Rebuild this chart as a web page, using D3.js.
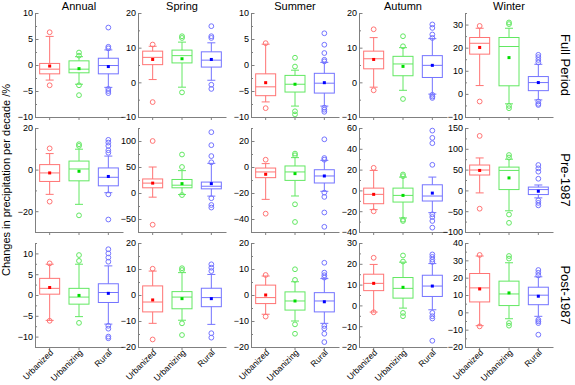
<!DOCTYPE html>
<html>
<head>
<meta charset="utf-8">
<script src="https://cdn.jsdelivr.net/npm/d3@7"></script>
<style>
  body { margin: 0; background: #fff; }
  svg { font-family: Arial, "Liberation Sans", sans-serif; }
  .axis path, .axis line { stroke: #808080; }
  .axis text { fill: #000; font-size: 9px; }
</style>
</head>
<body>
<svg></svg>
<script>
let periods = ['Full Period', 'Pre-1987', 'Post-1987']
let seasons = ['Annual', 'Spring', 'Summer', 'Autumn', 'Winter']
let groups = ['Urbanized', 'Urbanizing', 'Rural']

// each box: [whisker low, Q1, median, Q3, whisker high, mean]
let fullBoxes = [
    [[-2.9, -1.7, -0.8, 0.3, 5.5, -0.2], [-3.7, -1.5, -0.8, 0.8, 1.6, -0.7], [-4.3, -1.7, -0.1, 1.3, 2.9, -0.3]],
    [[0.8, 5.1, 7.2, 9.0, 10.4, 6.6], [-1.4, 5.6, 7.7, 9.3, 11.6, 6.8], [0.6, 4.4, 6.4, 8.8, 11.4, 6.6]],
    [[-7.1, -5.9, -4.2, -1.7, 4.0, -3.4], [-7.9, -5.2, -3.7, -2.0, -1.0, -3.7], [-7.9, -5.4, -3.5, -1.6, 0.5, -3.4]],
    [[-1.4, 3.9, 6.8, 9.0, 12.9, 6.6], [-2.3, 1.9, 5.3, 7.5, 10.0, 4.6], [-3.4, 1.4, 4.9, 7.7, 12.6, 4.9]],
    [[3.6, 17.2, 21.9, 24.4, 28.4, 20.1], [-4.3, 3.5, 20.5, 24.4, 28.4, 15.7], [-2.6, 1.4, 4.9, 7.5, 12.8, 4.9]]
]
let fullOutliers = [
    [[6.3, -3.9], [2.4, 1.8, -3.9, -5.8], [7.2, 3.5, 3.2, -4.6, -5.0, -5.4]],
    [[10.9, -5.7], [13.3, 12.8, -2.9], [16.2, 13.3, 12.8, -0.7, -1.9]],
    [[4.2, -8.3], [1.4, -0.3, -8.9, -9.5], [6.1, 3.9, 2.3, 1.0, 0.7, -8.2, -8.6, -9.0]],
    [[15.3, -2.3], [13.3, 10.4, -4.8], [16.7, 15.7, 13.8, 12.8, -3.6, -4.1, -4.5]],
    [[29.4, -3.3], [30.9, 30.2, -5.2, -6.2], [16.9, 15.9, 14.7, 13.6, -3.3, -4.3, -4.8]]
]
let preBoxes = [
    [[-11.9, -5.7, -1.6, 2.4, 7.7, -1.6], [-16.7, -5.4, 0.3, 4.1, 9.8, -0.8], [-11.1, -7.8, -3.7, 0.8, 6.5, -3.3]],
    [[-8, 10, 19, 27, 50, 19], [-3, 10, 15, 26, 43, 18], [-6, 8, 13, 21, 57, 18]],
    [[-24.9, -8.2, -3.8, -0.8, 2.6, -5.6], [-22.3, -10.3, -3.8, 0.8, 7.2, -5.1], [-18.7, -12.3, -6.9, -2.1, 5.1, -6.9]],
    [[-18.5, -12.8, -3.8, 2.2, 19.2, -3.8], [-26.5, -11.2, -4.8, 2.2, 12.8, -4.8], [-21.4, -10.2, -5.4, 5.4, 12.8, -2.6]],
    [[-6, 37, 49, 61, 78, 48], [-49, 2, 48, 56, 75, 30], [-18, -10, 2, 8, 13, -2]]
]
let preOutliers = [
    [[10.2, -15.4], [12.2, 11.4, -22], [14.3, 13.0, 11.4, 9.3, 8.1, -11.9, -24]],
    [[100, -61], [74, 50, -4], [117, 92, 71, 59, -10, -23, -28]],
    [[5.6, -35.9], [10.3, 9.0, -28.7, -42.3], [21.3, 6.9, 5.6, -19.7, -23, -35, -46]],
    [[21.7, -20.1], [15.3, 13.7, -28.1, -29.4], [57.5, 50.5, 45.4, 24.6, -23, -25.6, -29.4, -35.8]],
    [[131, -44], [85, 79, -58, -78], [61, 53, 45, 28, -24, -30, -36]]
]
let postBoxes = [
    [[-6.1, 0.2, 1.6, 4.0, 7.4, 1.8], [-5.2, -2.2, -0.5, 1.6, 7.4, -0.1], [-7.0, -1.8, 0.6, 2.7, 7.0, 0.4]],
    [[-10.9, -6.5, -2.7, 3.5, 9.2, -1.9], [-9.7, -5.3, -0.8, 1.3, 8.6, -1.4], [-11.3, -4.5, -1.0, 2.6, 7.9, -1.4]],
    [[-7.4, -3.3, -1.0, 3.8, 7.3, 0.0], [-10.0, -5.8, -2.3, 1.2, 5.1, -2.3], [-10.9, -6.5, -2.3, 0.9, 6.3, -2.6]],
    [[-3.2, 7.1, 10.6, 15.0, 19.7, 10.6], [-1.3, 3.5, 8.2, 13.4, 20.8, 8.7], [-2.1, 4.3, 9.3, 14.5, 20.1, 9.3]],
    [[-7.7, 6.0, 14.1, 22.4, 32.5, 13.5], [-3.7, 3.9, 10.6, 18.0, 28.6, 11.2], [-2.3, 4.4, 9.9, 14.5, 20.5, 9.3]]
]
let postOutliers = [
    [[7.6, -6.2], [9.6, 8.2, -6.7], [11.0, 10.0, 9.0, 8.0, -7.4, -8.1, -10.0, -10.4]],
    [[10.1, -17.1], [10.3, 9.6, -10.9, -15.4], [11.8, 10.5, 9.2, -14.7, -16.4]],
    [[7.7, -8.3], [9.9, 5.8, -11.3, -14.9], [12.4, 8.6, 7.6, 6.7, -11.9, -12.9, -14.9, -18.1]],
    [[22.9, -3.3], [24.0, 21.1, -3.6, -5.2], [24.5, 23.3, 22.0, 20.9, -3.6, -5.2, -6.3, -17]],
    [[33.1, -8.1], [32.5, 31.0, -6.2, -7.7], [24.4, 22.8, 21.3, -4.3, -5.2, -6.2, -12.9]]
]

let yDomains = [
    [[-10, 10], [-10, 20], [-10, 10], [-10, 20], [-10, 35]],
    [[-30, 20], [-75, 125], [-50, 30], [-40, 60], [-100, 150]],
    [[-12.5, 12.5], [-20, 20], [-20, 20], [-20, 30], [-20, 40]]
]
let yTicks = [
    [[-10, -5, 0, 5, 10], [-10, 0, 10, 20], [-10, -5, 0, 5, 10], [-10, 0, 10, 20], [-10, 0, 10, 20, 30]],
    [[-20, 0, 20], [-50, 0, 50, 100], [-40, -20, 0, 20], [-40, -20, 0, 20, 40, 60], [-100, -50, 0, 50, 100, 150]],
    [[-10, -5, 0, 5, 10], [-20, -10, 0, 10, 20], [-20, -10, 0, 10, 20], [-20, -10, 0, 10, 20, 30], [-20, -10, 0, 10, 20, 30, 40]]
]

let boxes = [fullBoxes, preBoxes, postBoxes]
let outliers = [fullOutliers, preOutliers, postOutliers]

let width = 575
let height = 385
let panelLeft = [35, 138, 251, 359, 465]
let panelW = 88
let rowTop = [13, 128, 243]
let panelH = 104
let lineColors = ['#ff7474', '#62e862', '#7474ff']
let meanColors = ['#ff0000', '#00dd00', '#0000ff']

let svg = d3.select('svg')
    .attr('width', width)
    .attr('height', height)

let drawPanel = (r, c) => {
    let left = panelLeft[c]
    let top = rowTop[r]
    let dom = yDomains[r][c]
    let ticks = yTicks[r][c]

    let yScale = d3.scaleLinear()
                   .domain(dom)
                   .range([top + panelH, top])
    let xScale = d3.scaleBand()
                   .domain(groups)
                   .range([left, left + panelW])

    let step = ticks[1] - ticks[0]
    let minor = []
    for (let v = ticks[0] - step / 2; v <= dom[1] + 1e-9; v += step) {
        if (v >= dom[0] - 1e-9) minor.push(v)
    }

    svg.append('g')
       .attr('class', 'axis')
       .attr('transform', 'translate(' + left + ', 0)')
       .call(d3.axisLeft(yScale).tickValues(minor).tickSize(-2).tickSizeOuter(0).tickFormat(''))
       .select('.domain').remove()

    svg.append('g')
       .attr('class', 'axis')
       .attr('transform', 'translate(' + left + ', 0)')
       .call(d3.axisLeft(yScale).tickValues(ticks).tickSize(-3.5).tickSizeOuter(0).tickPadding(2))

    let xAxis = svg.append('g')
       .attr('class', 'axis')
       .attr('transform', 'translate(0, ' + (top + panelH) + ')')
       .call(d3.axisBottom(xScale).tickSize(3).tickSizeOuter(0).tickFormat(''))

    if (r === 2) {
        xAxis.selectAll('.tick')
             .append('text')
             .attr('transform', 'translate(2, 4) rotate(-45)')
             .attr('text-anchor', 'end')
             .attr('dy', '0.35em')
             .style('font-size', '8.5px')
             .text(d => d)
    }

    let items = groups.map((g, i) => ({ g: g, i: i, s: boxes[r][c][i], o: outliers[r][c][i] }))
    let bw = 20
    let cap = 8

    let box = svg.selectAll('.box-' + r + '-' + c)
                 .data(items)
                 .enter()
                 .append('g')
                 .attr('fill', 'none')
                 .attr('stroke', d => lineColors[d.i])
                 .attr('stroke-width', 1)

    let cx = d => xScale(d.g) + xScale.bandwidth() / 2

    box.append('line')
       .attr('x1', cx).attr('x2', cx)
       .attr('y1', d => yScale(d.s[3])).attr('y2', d => yScale(d.s[4]))
    box.append('line')
       .attr('x1', cx).attr('x2', cx)
       .attr('y1', d => yScale(d.s[1])).attr('y2', d => yScale(d.s[0]))
    box.append('line')
       .attr('x1', d => cx(d) - cap / 2).attr('x2', d => cx(d) + cap / 2)
       .attr('y1', d => yScale(d.s[4])).attr('y2', d => yScale(d.s[4]))
    box.append('line')
       .attr('x1', d => cx(d) - cap / 2).attr('x2', d => cx(d) + cap / 2)
       .attr('y1', d => yScale(d.s[0])).attr('y2', d => yScale(d.s[0]))
    box.append('rect')
       .attr('x', d => cx(d) - bw / 2)
       .attr('width', bw)
       .attr('y', d => yScale(d.s[3]))
       .attr('height', d => yScale(d.s[1]) - yScale(d.s[3]))
    box.append('line')
       .attr('x1', d => cx(d) - bw / 2).attr('x2', d => cx(d) + bw / 2)
       .attr('y1', d => yScale(d.s[2])).attr('y2', d => yScale(d.s[2]))

    box.selectAll('circle')
       .data(d => d.o.map(v => ({ v: v, d: d })))
       .enter()
       .append('circle')
       .attr('cx', p => cx(p.d))
       .attr('cy', p => yScale(p.v))
       .attr('r', 2.4)

    box.append('rect')
       .attr('x', d => cx(d) - 1.5)
       .attr('y', d => yScale(d.s[5]) - 1.5)
       .attr('width', 3)
       .attr('height', 3)
       .attr('stroke', 'none')
       .attr('fill', d => meanColors[d.i])
}

let drawLabels = () => {
    svg.selectAll('.season')
       .data(seasons)
       .enter()
       .append('text')
       .attr('x', (d, i) => panelLeft[i] + panelW / 2)
       .attr('y', 10)
       .attr('text-anchor', 'middle')
       .style('font-size', '11px')
       .text(d => d)

    svg.selectAll('.period')
       .data(periods)
       .enter()
       .append('text')
       .attr('transform', (d, i) => 'translate(561, ' + (rowTop[i] + panelH / 2) + ') rotate(90)')
       .attr('text-anchor', 'middle')
       .style('font-size', '13px')
       .text(d => d)

    svg.append('text')
       .attr('transform', 'translate(10, ' + 180 + ') rotate(-90)')
       .attr('text-anchor', 'middle')
       .style('font-size', '11px')
       .text('Changes in precipitation per decade /%')
}

for (let r = 0; r < 3; r++) {
    for (let c = 0; c < 5; c++) {
        drawPanel(r, c)
    }
}
drawLabels()
</script>
</body>
</html>
